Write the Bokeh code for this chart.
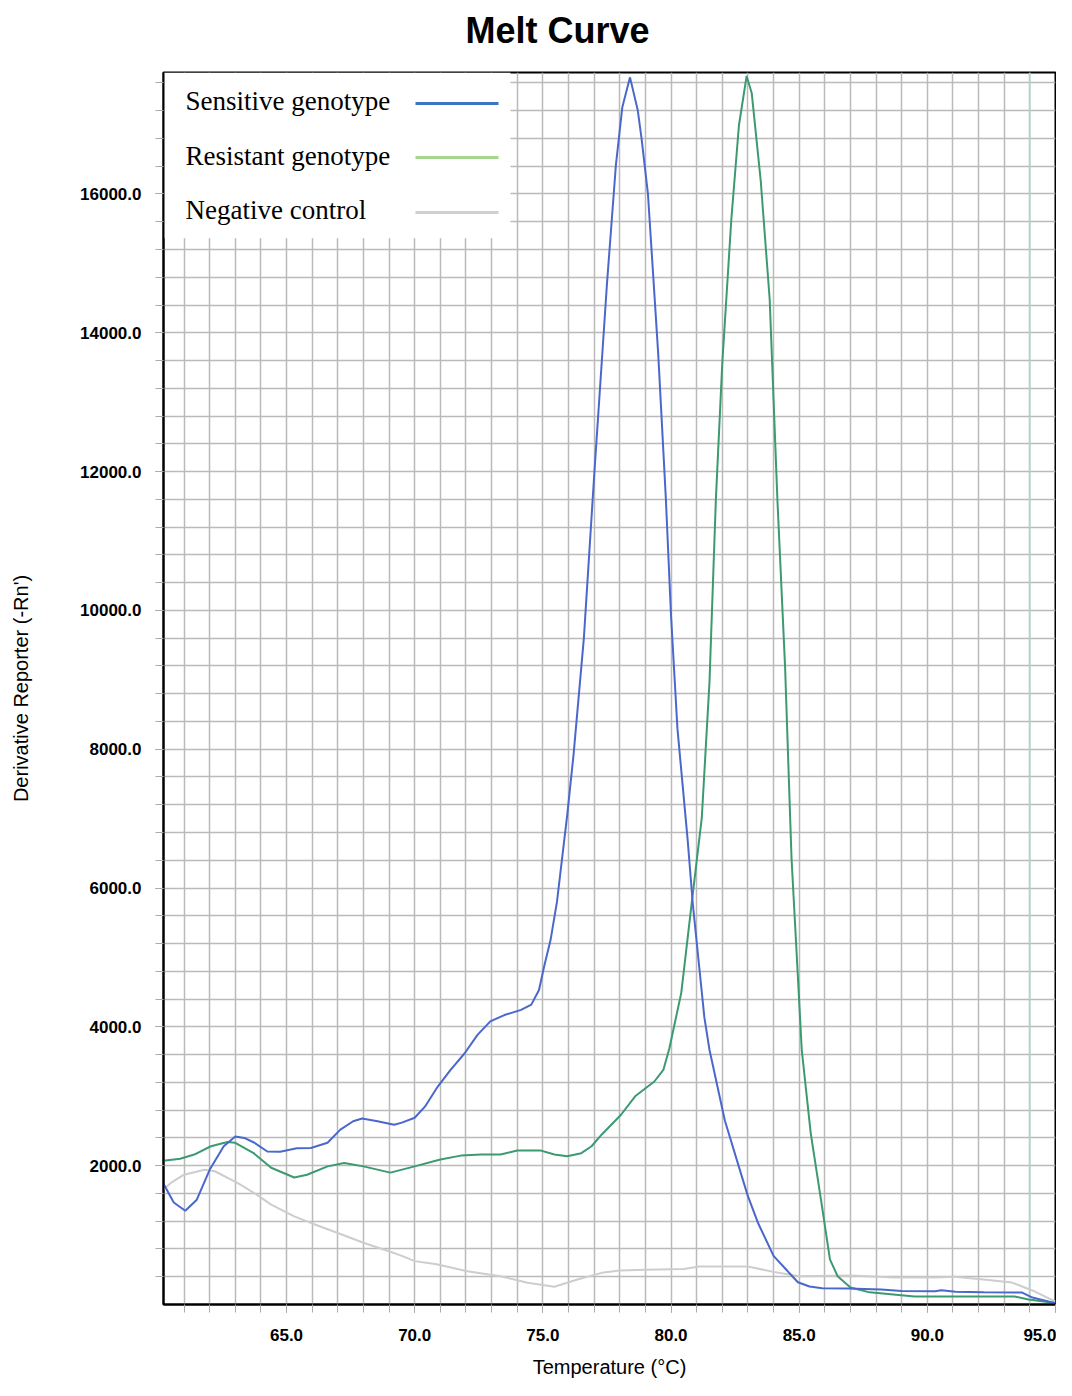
from bokeh.plotting import figure
from bokeh.models import (Range1d, FixedTicker, PrintfTickFormatter, BoxAnnotation, Label, Span,
                          LinearAxis, CustomJSTickFormatter)
from bokeh.embed import file_html
from bokeh.resources import INLINE
import numpy as np

# ---------------- data ----------------
chart_title = "Melt Curve"
x_label = "Temperature (°C)"
y_label = "Derivative Reporter (-Rn')"
series_names = ["Sensitive genotype", "Resistant genotype", "Negative control"]

sens_temp = [60.2, 60.6, 61.05, 61.5, 62.0, 62.55, 63.0, 63.35, 63.75, 64.25, 64.75, 65.4, 65.95,
             66.6, 67.1, 67.6, 67.95, 68.55, 69.2, 69.5, 70.0, 70.4, 70.9, 71.4, 71.95, 72.45,
             72.95, 73.5, 74.15, 74.55, 74.85, 75.05, 75.3, 75.55, 75.95, 76.2, 76.6, 77.0, 77.5,
             77.85, 78.1, 78.4, 78.7, 78.85, 79.1, 79.5, 79.8, 80.0, 80.25, 80.65, 80.85, 81.3,
             81.5, 82.1, 82.75, 83.0, 83.4, 84.0, 84.5, 84.95, 85.4, 85.9, 86.9, 88.2, 89.0,
             90.3, 90.55, 91.1, 92.2, 93.7, 94.1, 95.0]
sens_deriv = [1740, 1470, 1350, 1510, 1940, 2280, 2420, 2400, 2330, 2205, 2200, 2250, 2255,
              2330, 2520, 2640, 2680, 2640, 2590, 2620, 2690, 2850, 3140, 3380, 3620, 3885,
              4080, 4170, 4245, 4320, 4530, 4870, 5250, 5800, 7050, 7930, 9600, 11930, 14700,
              16420, 17250, 17680, 17210, 16800, 16000, 13700, 11600, 9930, 8300, 6690, 5770, 4140,
              3670, 2650, 1860, 1560, 1170, 700, 500, 320, 260, 235, 230, 216, 195,
              190, 206, 185, 175, 172, 100, 20]

res_temp = [60.2, 60.85, 61.4, 62.05, 62.7, 63.0, 63.7, 64.4, 65.3, 65.8, 66.6, 67.25, 68.0,
            69.05, 70.0, 71.0, 71.8, 72.6, 73.35, 74.0, 74.9, 75.45, 75.95, 76.5, 76.9, 77.3,
            78.05, 78.6, 79.35, 79.7, 79.93, 80.4, 80.8, 81.2, 81.5, 81.75, 82.0, 82.35, 82.65,
            82.95, 83.15, 83.5, 83.85, 84.15, 84.45, 84.7, 84.95, 85.1, 85.45, 85.85, 86.2, 86.5,
            87.0, 87.75, 89.5, 93.4, 93.95, 95.0]
res_deriv = [2070, 2100, 2160, 2280, 2340, 2330, 2185, 1970, 1830, 1870, 1990, 2040, 1990,
             1900, 1990, 2090, 2145, 2160, 2160, 2220, 2220, 2160, 2135, 2180, 2280, 2450,
             2734, 3000, 3213, 3380, 3680, 4490, 5760, 7010, 8960, 11600, 13560, 15620, 16990,
             17700, 17450, 16190, 14480, 11600, 9190, 6440, 4720, 3670, 2470, 1510, 650, 407,
             245, 175, 115, 115, 72, 20]

neg_temp = [60.2, 60.5, 61.0, 61.8, 62.2, 63.1, 63.85, 64.4, 65.3, 65.95, 67.0, 68.0, 69.05,
            69.5, 70.0, 70.85, 72.05, 73.35, 74.4, 75.45, 76.35, 77.3, 78.0, 79.0, 80.5, 81.1,
            83.0, 84.0, 85.0, 87.0, 88.7, 90.3, 91.05, 92.2, 93.3, 94.2, 95.0]
neg_deriv = [1660, 1755, 1870, 1940, 1920, 1750, 1580, 1440, 1270, 1175, 1030, 890, 760,
             700, 625, 580, 480, 407, 312, 255, 360, 456, 490, 500, 510, 547,
             547, 470, 407, 417, 388, 388, 400, 360, 316, 187, 40]

x_tick_values = [65, 70, 75, 80, 85, 90, 95]
y_tick_values = [2000, 4000, 6000, 8000, 10000, 12000, 14000, 16000]
threshold_temp = 94.0

# ---------------- styling ----------------
curve_colors = ["#4a68cc", "#3c9a72", "#cdcdcd"]
legend_colors = ["#3a76c4", "#a6d68c", "#cfcfcf"]
grid_color = "#bababa"

x_start, x_end = 60.2, 95.0
y_start, y_end = 0, 17750

W, H = 1056, 1380
ML, MR, MT, MB = 163, 1, 72, 75
frame_w = W - ML - MR
frame_h = H - MT - MB

p = figure(width=W, height=H, output_backend="svg", toolbar_location=None,
           x_range=Range1d(x_start, x_end), y_range=Range1d(y_start, y_end),
           min_border_left=ML, min_border_right=MR, min_border_top=MT, min_border_bottom=MB,
           background_fill_color="white", border_fill_color="white")

xax = p.below[0]
yax = p.left[0]

# axes
x_minor = list(np.arange(61, 96, 1.0))
y_minor = list(np.arange(400, 17750, 400.0))
xax.ticker = FixedTicker(ticks=x_tick_values, minor_ticks=x_minor)
yax.ticker = FixedTicker(ticks=y_tick_values, minor_ticks=y_minor)
xax.formatter = PrintfTickFormatter(format="%.1f")
yax.formatter = PrintfTickFormatter(format="%.1f")

for ax in (xax, yax):
    ax.axis_line_color = "black"
    ax.axis_line_width = 2
    ax.major_tick_line_color = "#888888"
    ax.minor_tick_line_color = "#aaaaaa"
    ax.major_tick_in = 0
    ax.minor_tick_in = 0
    ax.major_tick_out = 8
    ax.minor_tick_out = 8
    ax.major_label_text_font = "Liberation Sans"
    ax.major_label_text_font_size = "17px"
    ax.major_label_text_font_style = "bold"
    ax.major_label_text_color = "black"
    ax.axis_label_text_font = "Liberation Sans"
    ax.axis_label_text_font_size = "20px"
    ax.axis_label_text_font_style = "normal"
    ax.axis_label_text_color = "black"

xax.axis_label = x_label
xax.major_label_standoff = 16
xax.axis_label_standoff = 12
yax.axis_label = y_label
yax.major_label_standoff = 14
yax.axis_label_standoff = 45

# title (an invisible spacer axis above lifts it away from the frame)
spacer = LinearAxis(ticker=FixedTicker(ticks=[x_start], minor_ticks=[]), axis_line_alpha=0,
                    major_tick_line_alpha=0, minor_tick_line_alpha=0, major_tick_in=0,
                    major_tick_out=20, minor_tick_in=0, minor_tick_out=0,
                    major_label_standoff=0, major_label_text_font_size="1px",
                    formatter=CustomJSTickFormatter(code="return ''"))
p.add_layout(spacer, "above")

p.title.text = chart_title
p.title.text_font = "Liberation Sans"
p.title.text_font_size = "36px"
p.title.text_font_style = "bold"
p.title.text_color = "black"
p.title.align = "left"
p.title.vertical_align = "bottom"
p.title.offset = 302
p.title.standoff = 4

# grid
p.xgrid.ticker = FixedTicker(ticks=list(np.arange(61, 95, 1.0)))
p.ygrid.ticker = FixedTicker(ticks=y_minor)
for g in (p.xgrid[0], p.ygrid[0]):
    g.grid_line_color = grid_color
    g.grid_line_width = 1.5

p.outline_line_color = "black"
p.outline_line_width = 2
p.outline_line_alpha = 1

p.add_layout(Span(location=threshold_temp, dimension="height", line_color="#a9d9cf",
                  line_width=1.5, level="underlay"))

# helpers: pixel offsets from the frame's top-left corner -> data coordinates
def fx(px):
    return x_start + px / frame_w * (x_end - x_start)

def fy(py):
    return y_end - py / frame_h * (y_end - y_start)

# legend background (covers the grid)
p.add_layout(BoxAnnotation(left=fx(0), right=fx(347), top=fy(0), bottom=fy(166),
                           fill_color="white", fill_alpha=1, line_alpha=0, level="underlay"))

# curves
p.line(neg_temp, neg_deriv, line_color=curve_colors[2], line_width=2)
p.line(res_temp, res_deriv, line_color=curve_colors[1], line_width=2)
p.line(sens_temp, sens_deriv, line_color=curve_colors[0], line_width=2)

# legend (text on the left, sample line on the right)
row_text_py = [29, 84, 138]
row_line_py = [31, 85, 140]
for name, col, tpy, lpy in zip(series_names, legend_colors, row_text_py, row_line_py):
    p.add_layout(Label(x=fx(22), y=fy(tpy), text=name, text_font="Liberation Serif",
                       text_font_size="27px", text_color="black", text_baseline="middle",
                       text_align="left"))
    p.line([fx(252), fx(335)], [fy(lpy), fy(lpy)], line_color=col, line_width=3)

open("out.html", "w").write(file_html(p, INLINE))
